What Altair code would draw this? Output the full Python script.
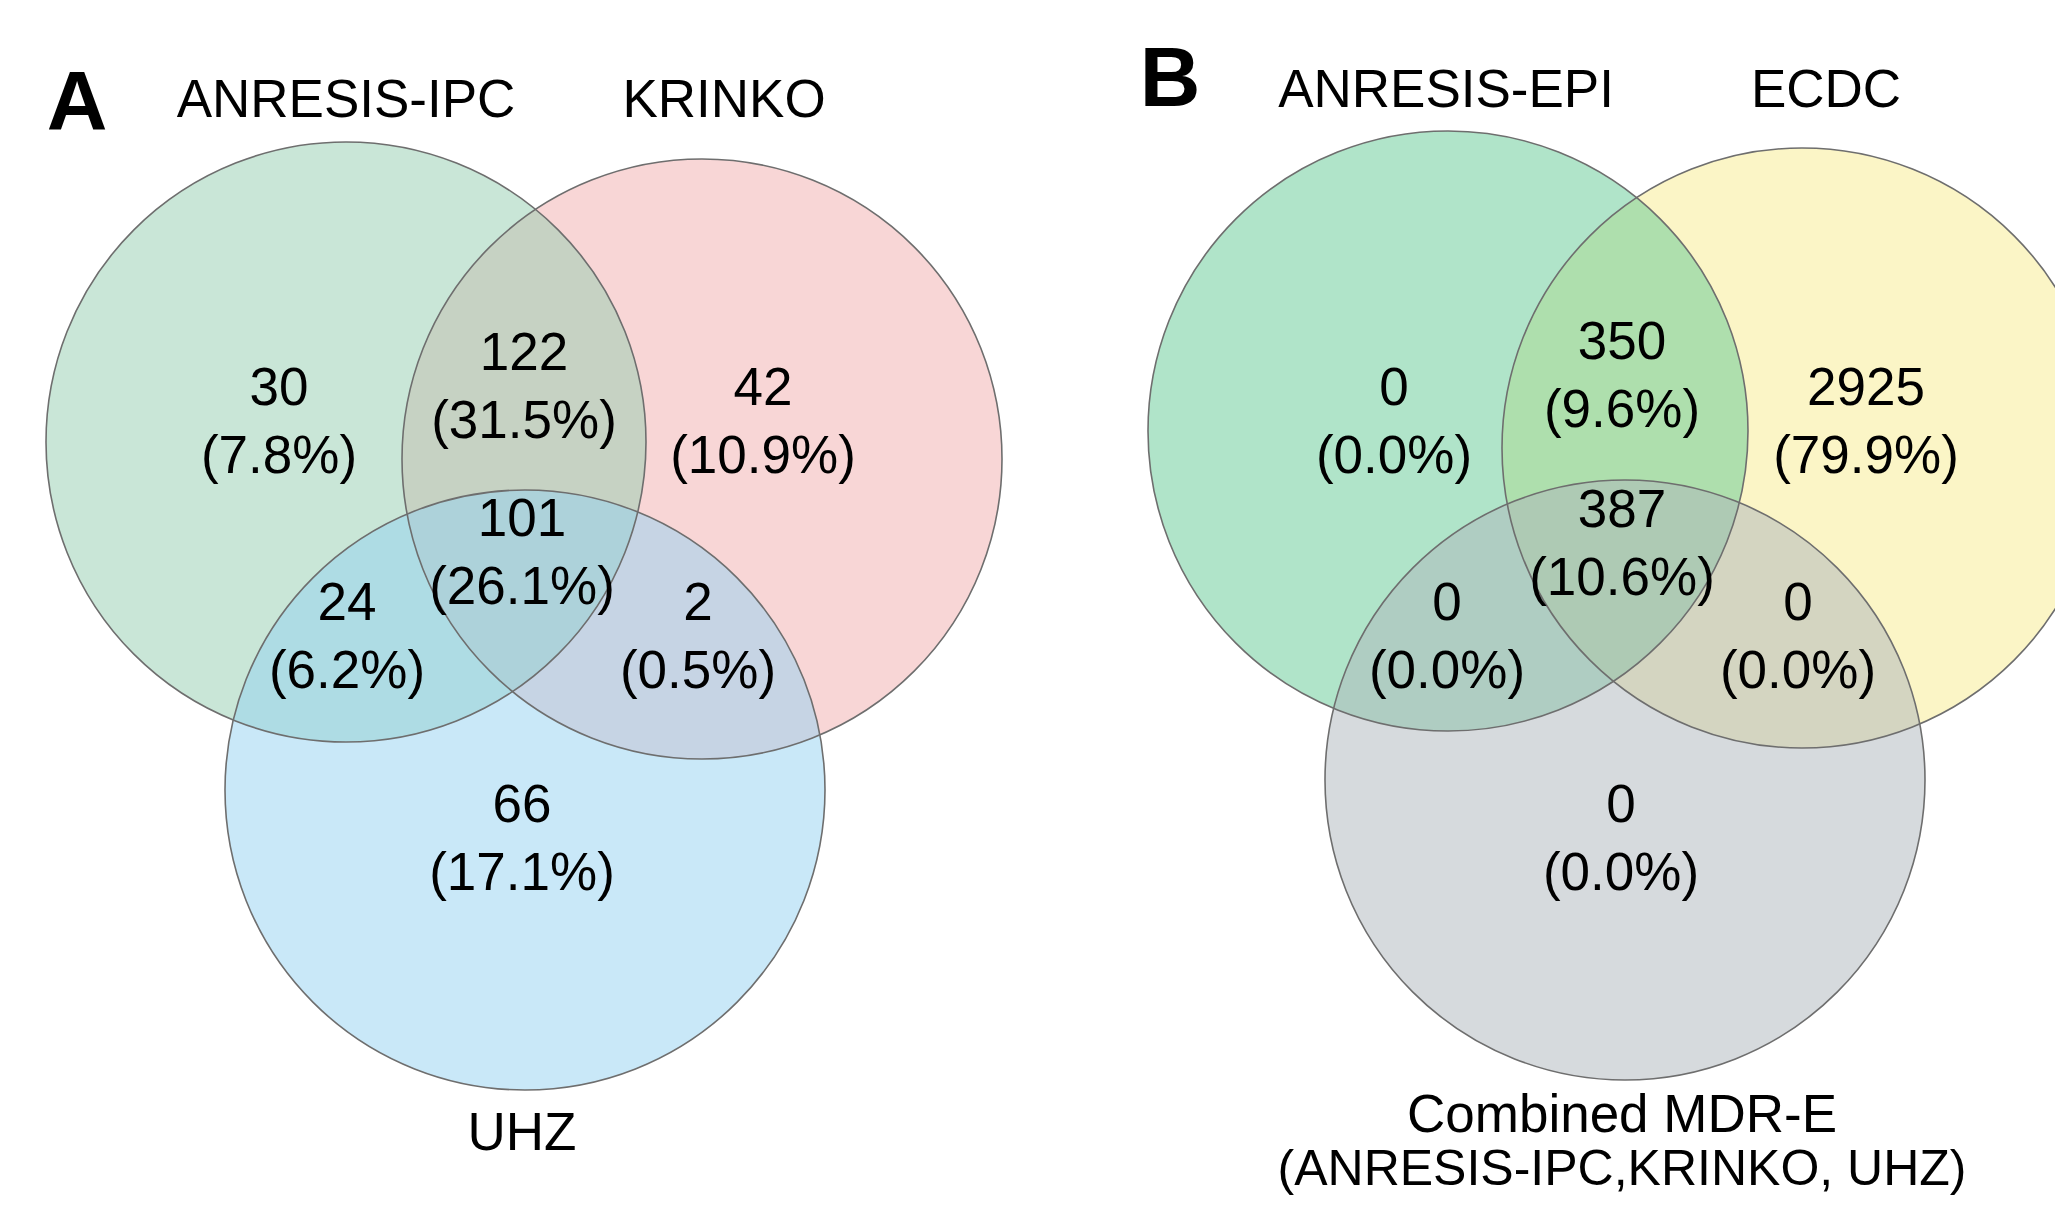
import altair as alt
import pandas as pd

# ---- circles (drawn in list order; later circles lie over earlier ones) ----
circle_names = ["KRINKO", "ANRESIS-IPC", "UHZ", "ECDC", "ANRESIS-EPI", "Combined MDR-E"]
circle_cx = [702, 346, 525, 1802, 1448, 1625]
circle_cy = [459, 442, 790, 448, 431, 780]
circle_colors = ["#f1adad", "#93cdaf", "#93d1f1", "#f7eb8d", "#61c993", "#adb5bb"]

# ---- region counts (position = centre of the first text line) ----
region_panel = ["A"] * 7 + ["B"] * 7
region_counts = [30, 122, 42, 101, 24, 2, 66,
                 0, 350, 2925, 387, 0, 0, 0]
region_x = [279, 524, 763, 522, 347, 698, 522,
            1394, 1622, 1866, 1622, 1447, 1798, 1621]
region_y = [386, 351, 386, 517, 601, 601, 803,
            386, 340, 386, 508, 601, 601, 803]

# ---- set labels ----
set_labels = ["ANRESIS-IPC", "KRINKO", "UHZ", "ANRESIS-EPI", "ECDC", "Combined MDR-E"]
set_label_x = [346, 724, 522, 1446, 1826, 1622]
set_label_y = [98, 98, 1131, 88, 88, 1113]
sub_label = ["(ANRESIS-IPC,KRINKO, UHZ)"]
sub_label_x = [1622]
sub_label_y = [1168]

# ---- panel letters ----
panel_letters = ["A", "B"]
panel_x = [77, 1170]
panel_y = [101, 77]

circles = pd.DataFrame({"name": circle_names, "x": circle_cx, "y": circle_cy,
                        "order": list(range(len(circle_names)))})

totals = {}
for p, c in zip(region_panel, region_counts):
    totals[p] = totals.get(p, 0) + c
region_text = [f"{c}\n({c / totals[p] * 100:.1f}%)" for p, c in zip(region_panel, region_counts)]
regions = pd.DataFrame({"x": region_x, "y": region_y, "text": region_text})
labels = pd.DataFrame({"x": set_label_x, "y": set_label_y, "text": set_labels})
sublabels = pd.DataFrame({"x": sub_label_x, "y": sub_label_y, "text": sub_label})
letters = pd.DataFrame({"x": panel_x, "y": panel_y, "text": panel_letters})

W, H = 2047, 1188
xs = alt.Scale(domain=[8, 8 + W], zero=False, nice=False)
ys = alt.Scale(domain=[8, 8 + H], zero=False, nice=False, reverse=True)
X = alt.X("x:Q", scale=xs, axis=None)
Y = alt.Y("y:Q", scale=ys, axis=None)

SIZE = 600 ** 2  # symbol size for a circle of radius 300 px

fills = alt.Chart(circles).mark_point(
    shape="circle", filled=True, size=SIZE, opacity=0.5, strokeWidth=0, clip=True
).encode(
    x=X, y=Y,
    color=alt.Color("name:N", scale=alt.Scale(domain=circle_names, range=circle_colors), legend=None),
    order=alt.Order("order:Q"),
)

outlines = alt.Chart(circles).mark_point(
    shape="circle", filled=False, size=SIZE, stroke="#6e6e6e", strokeWidth=1.6,
    opacity=1, clip=True
).encode(x=X, y=Y)

FONT = "Liberation Sans"

region_layer = alt.Chart(regions).mark_text(
    font=FONT, fontSize=53, color="black", align="center", baseline="middle",
    lineBreak="\n", lineHeight=68, dy=3, clip=True
).encode(x=X, y=Y, text="text:N")

label_layer = alt.Chart(labels).mark_text(
    font=FONT, fontSize=53, color="black", align="center", baseline="middle",
    dy=3, clip=True
).encode(x=X, y=Y, text="text:N")

sub_layer = alt.Chart(sublabels).mark_text(
    font=FONT, fontSize=50, color="black", align="center", baseline="middle",
    dy=2, clip=True
).encode(x=X, y=Y, text="text:N")

letter_layer = alt.Chart(letters).mark_text(
    font=FONT, fontSize=84, fontWeight="bold", color="black", align="center",
    baseline="middle", dy=4, clip=True
).encode(x=X, y=Y, text="text:N")

chart = alt.layer(fills, outlines, region_layer, label_layer, sub_layer, letter_layer).properties(
    width=W, height=H, padding=0, background="white"
).configure_view(stroke=None)

chart.save("out.html", embed_options={"renderer": "svg", "actions": False})
